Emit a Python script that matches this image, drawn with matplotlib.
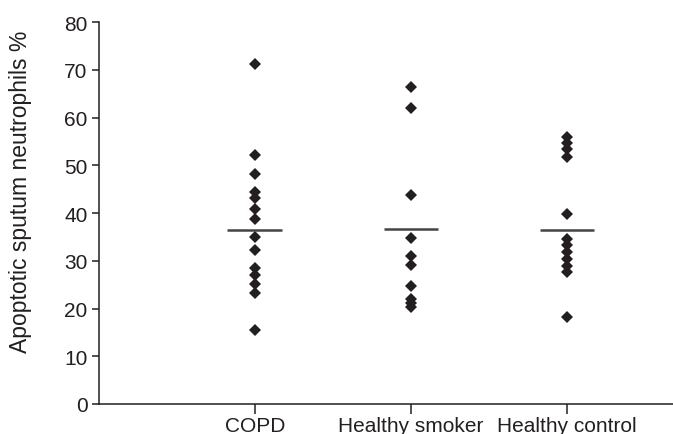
import matplotlib
matplotlib.use("Agg")
import matplotlib.pyplot as plt

plt.rcParams["font.family"] = ["Liberation Sans", "DejaVu Sans"]

# values
groups = ["COPD", "Healthy smoker", "Healthy control"]
copd = [71.2, 52.1, 48.2, 44.3, 43.1, 40.8, 38.7, 34.9, 32.3, 28.4, 27.0, 25.1, 23.2, 15.6]
smoker = [66.3, 62.1, 43.8, 34.7, 30.9, 29.1, 24.8, 22.0, 21.2, 20.4]
control = [56.0, 54.6, 53.4, 51.8, 39.8, 34.6, 33.2, 31.8, 30.4, 29.0, 27.6, 18.2]
group_lines = [36.5, 36.7, 36.5]
yticks = [0, 10, 20, 30, 40, 50, 60, 70, 80]

ink = "#231f20"

fig = plt.figure(figsize=(6.73, 4.35), dpi=100)
ax = fig.add_axes([0.1467, 0.069, 0.8533, 0.878])

for i, vals in enumerate([copd, smoker, control]):
    pos = i + 1
    ax.plot([pos] * len(vals), vals, linestyle="none", marker="D",
            markersize=6.2, color=ink, markeredgewidth=0)
    ax.plot([pos - 0.175, pos + 0.175], [group_lines[i]] * 2,
            color="#444444", lw=1.8, solid_capstyle="butt")

ax.set_xlim(0, 3.68)
ax.set_ylim(0, 80)
ax.set_yticks(yticks)
ax.set_xticks([1, 2, 3])
ax.set_xticklabels(groups)

for side in ["top", "right"]:
    ax.spines[side].set_visible(False)
for side in ["left", "bottom"]:
    ax.spines[side].set_color(ink)
    ax.spines[side].set_linewidth(1.1)

ax.tick_params(axis="y", direction="out", length=5, width=1.1, colors=ink,
               labelsize=15, pad=3)
ax.tick_params(axis="x", direction="out", length=7, width=1.1, colors=ink,
               labelsize=15, pad=1.5)
ax.set_ylabel("Apoptotic sputum neutrophils %", fontsize=16.5, color=ink)
ax.yaxis.set_label_coords(-0.116, 0.558)

fig.savefig("out.png", dpi=100)
